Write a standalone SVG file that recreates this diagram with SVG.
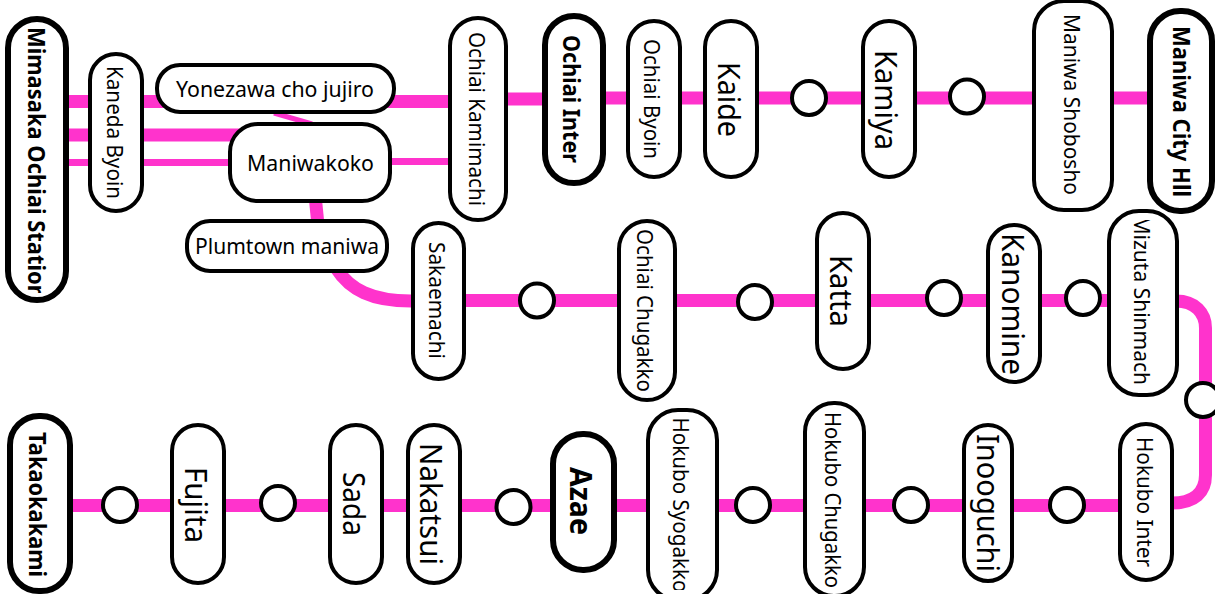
<svg xmlns="http://www.w3.org/2000/svg" width="1215" height="594" viewBox="0 0 1215 594">
<style>
.l{fill:none;stroke:#ff33cc;stroke-width:13}
.n{fill:#fff;stroke:#000;stroke-width:4}
.b{fill:#fff;stroke:#000;stroke-width:6}
.c{fill:#fff;stroke:#000;stroke-width:4}
text{font-family:"Noto Sans","Open Sans",sans-serif;fill:#000;text-anchor:middle}
.s{font-size:21.5px}
.g{font-size:30.5px}
.h{font-size:23px;font-weight:700}
</style>
<defs>
<clipPath id="clipA"><rect x="10" y="21" width="54" height="272"/></clipPath>
<clipPath id="clipB"><rect x="1111" y="220" width="64" height="165"/></clipPath>
<clipPath id="clipC"><rect x="650" y="412" width="65" height="178"/></clipPath>
</defs>
<rect width="1215" height="594" fill="#fff"/>
<g id="connectors">
<path class="l" d="M66 101.500H448"/>
<path class="l" d="M66 135H240"/>
<path class="l" d="M66 162.500H240" style="stroke-width:7"/>
<path class="l" d="M380 161.500H450" style="stroke-width:7"/>
<path class="l" d="M274 113L312 124" style="stroke-width:5"/>
<path class="l" d="M315 195L318 225"/>
<path class="l" d="M336 268C350 290 372 301 411 301"/>
<path class="l" d="M506 99H546"/>
<path class="l" d="M603 98H630"/>
<path class="l" d="M680 98H1150"/>
<path class="l" d="M464 300.500H1110"/>
<path class="l" d="M1176 301C1195 301 1205.500 313 1205.500 328V475C1205.500 492 1195 503 1172 503"/>
<path class="l" d="M70 505.500H1120"/>
</g>
<g id="c1"><circle class="c" cx="809" cy="98" r="17"/></g>
<g id="c2"><circle class="c" cx="967" cy="96.500" r="17"/></g>
<g id="c3"><circle class="c" cx="537" cy="300.500" r="17"/></g>
<g id="c4"><circle class="c" cx="755" cy="302" r="17"/></g>
<g id="c5"><circle class="c" cx="944" cy="298" r="17"/></g>
<g id="c6"><circle class="c" cx="1083" cy="298" r="17"/></g>
<g id="c7"><circle class="c" cx="1203" cy="400" r="17"/></g>
<g id="c8"><circle class="c" cx="1067" cy="505" r="17"/></g>
<g id="c9"><circle class="c" cx="911" cy="505" r="17"/></g>
<g id="c10"><circle class="c" cx="753" cy="505" r="17"/></g>
<g id="c11"><circle class="c" cx="513.500" cy="507" r="17"/></g>
<g id="c12"><circle class="c" cx="278" cy="503" r="17"/></g>
<g id="c13"><circle class="c" cx="120" cy="505" r="17"/></g>
<g id="mimasaka"><rect class="b" x="8" y="19" width="58" height="281" rx="29"/><g clip-path="url(#clipA)"><text class="h" textLength="272" lengthAdjust="spacingAndGlyphs" transform="translate(28 163) rotate(90)">Mimasaka Ochiai Station</text></g></g>
<g id="kaneda"><rect class="n" x="90" y="54" width="52" height="157" rx="26"/><text class="s" textLength="133" lengthAdjust="spacingAndGlyphs" transform="translate(107 132.500) rotate(90)">Kaneda Byoin</text></g>
<g id="yonezawa"><rect class="n" x="157" y="65" width="237" height="47" rx="23"/><text class="s" textLength="198" lengthAdjust="spacingAndGlyphs" x="275" y="97">Yonezawa cho jujiro</text></g>
<g id="maniwakoko"><rect class="n" x="230" y="124" width="160" height="77" rx="28"/><text class="s" textLength="127" lengthAdjust="spacingAndGlyphs" x="310.500" y="171">Maniwakoko</text></g>
<g id="plumtown"><rect class="n" x="187" y="221" width="200" height="50" rx="23"/><text class="s" textLength="184" lengthAdjust="spacingAndGlyphs" x="287" y="254">Plumtown maniwa</text></g>
<g id="ochiai-kamimachi"><rect class="n" x="450" y="18" width="56" height="202" rx="28"/><text class="s" textLength="174" lengthAdjust="spacingAndGlyphs" transform="translate(468.500 119) rotate(90)">Ochiai Kamimachi</text></g>
<g id="ochiai-inter"><rect class="b" x="545" y="16" width="58" height="167" rx="29"/><text class="h" textLength="128" lengthAdjust="spacingAndGlyphs" transform="translate(563 99) rotate(90)">Ochiai Inter</text></g>
<g id="ochiai-byoin"><rect class="n" x="628" y="21" width="52" height="156" rx="26"/><text class="s" textLength="120" lengthAdjust="spacingAndGlyphs" transform="translate(644 99) rotate(90)">Ochiai Byoin</text></g>
<g id="kaide"><rect class="n" x="705" y="21" width="52" height="156" rx="26"/><text class="g" textLength="75" lengthAdjust="spacingAndGlyphs" transform="translate(718 99.500) rotate(90)">Kaide</text></g>
<g id="kamiya"><rect class="n" x="863" y="21" width="52" height="156" rx="26"/><text class="g" textLength="100" lengthAdjust="spacingAndGlyphs" transform="translate(875 100) rotate(90)">Kamiya</text></g>
<g id="maniwa-shobosho"><rect class="n" x="1034" y="1" width="78" height="209" rx="30"/><text class="s" textLength="181" lengthAdjust="spacingAndGlyphs" transform="translate(1064 104.500) rotate(90)">Maniwa Shobosho</text></g>
<g id="maniwa-city"><rect class="b" x="1150" y="11" width="62" height="200" rx="30"/><text class="h" textLength="171" lengthAdjust="spacingAndGlyphs" transform="translate(1173 111.500) rotate(90)">Maniwa City Hll</text></g>
<g id="sakaemachi"><rect class="n" x="413" y="223" width="51" height="156" rx="25.500"/><text class="s" textLength="117" lengthAdjust="spacingAndGlyphs" transform="translate(429 300.500) rotate(90)">Sakaemachi</text></g>
<g id="ochiai-chugakko"><rect class="n" x="619" y="221" width="56" height="179" rx="28"/><text class="s" textLength="163" lengthAdjust="spacingAndGlyphs" transform="translate(637 310.500) rotate(90)">Ochiai Chugakko</text></g>
<g id="katta"><rect class="n" x="817" y="213" width="52" height="156" rx="26"/><text class="g" textLength="72" lengthAdjust="spacingAndGlyphs" transform="translate(830 291) rotate(90)">Katta</text></g>
<g id="kanomine"><rect class="n" x="988" y="225" width="52" height="157" rx="26"/><text class="g" textLength="142" lengthAdjust="spacingAndGlyphs" transform="translate(1002 304) rotate(90)">Kanomine</text></g>
<g id="mizuta"><rect class="n" x="1109" y="211" width="68" height="184" rx="30"/><g clip-path="url(#clipB)"><text class="s" textLength="175" lengthAdjust="spacingAndGlyphs" transform="translate(1134 303) rotate(90)">Mizuta Shinmachi</text></g></g>
<g id="takaokakami"><rect class="b" x="10" y="416" width="60" height="175" rx="29"/><text class="h" textLength="145" lengthAdjust="spacingAndGlyphs" transform="translate(29 504.500) rotate(90)">Takaokakami</text></g>
<g id="fujita"><rect class="n" x="172" y="425" width="52" height="158" rx="26"/><text class="g" textLength="76" lengthAdjust="spacingAndGlyphs" transform="translate(185 505) rotate(90)">Fujita</text></g>
<g id="sada"><rect class="n" x="330" y="425" width="52" height="158" rx="26"/><text class="g" textLength="64" lengthAdjust="spacingAndGlyphs" transform="translate(343 504) rotate(90)">Sada</text></g>
<g id="nakatsui"><rect class="n" x="408" y="425" width="52" height="158" rx="26"/><text class="g" textLength="122" lengthAdjust="spacingAndGlyphs" transform="translate(420 504) rotate(90)">Nakatsui</text></g>
<g id="azae"><rect class="b" x="553" y="434" width="61" height="136" rx="30"/><text class="h" style="font-size:30px" textLength="68" lengthAdjust="spacingAndGlyphs" transform="translate(570 501) rotate(90)">Azae</text></g>
<g id="hokubo-syogakko"><rect class="n" x="648" y="410" width="69" height="190" rx="30"/><g clip-path="url(#clipC)"><text class="s" textLength="175" lengthAdjust="spacingAndGlyphs" transform="translate(673 505) rotate(90)">Hokubo Syogakko</text></g></g>
<g id="hokubo-chugakko"><rect class="n" x="805" y="403" width="59" height="193" rx="29"/><text class="s" textLength="176" lengthAdjust="spacingAndGlyphs" transform="translate(825 500) rotate(90)">Hokubo Chugakko</text></g>
<g id="inooguchi"><rect class="n" x="964" y="425" width="48" height="156" rx="24"/><text class="g" textLength="138" lengthAdjust="spacingAndGlyphs" transform="translate(977 503) rotate(90)">Inooguchi</text></g>
<g id="hokubo-inter"><rect class="n" x="1120" y="424" width="52" height="156" rx="26"/><text class="s" textLength="130" lengthAdjust="spacingAndGlyphs" transform="translate(1137 502) rotate(90)">Hokubo Inter</text></g>
</svg>
